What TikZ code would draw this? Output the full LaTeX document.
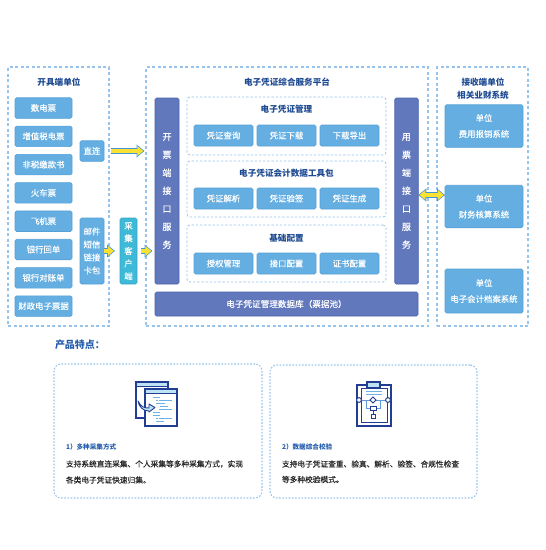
\documentclass[tikz,border=0pt]{standalone}
\usepackage{fontspec}
\setmainfont{Noto Sans CJK SC}
\newfontfamily\midfont[FakeBold=0.25]{Noto Sans CJK SC}
\usepackage{xcolor}
\usetikzlibrary{arrows.meta, positioning, calc}
\definecolor{mybox}{RGB}{100,174,226}
\definecolor{myboxline}{RGB}{84,160,216}
\definecolor{mydeep}{RGB}{98,120,188}
\definecolor{mydeepline}{RGB}{74,98,170}
\definecolor{mycyan}{RGB}{62,186,216}
\definecolor{mydash}{RGB}{150,196,236}
\definecolor{mytitle}{RGB}{30,74,146}
\definecolor{myhead}{RGB}{36,92,172}
\definecolor{mynavy}{RGB}{34,62,146}
\definecolor{mypale}{RGB}{190,226,246}
\definecolor{mylines}{RGB}{110,176,232}
\definecolor{myarrow}{RGB}{250,226,50}
\definecolor{myarrowline}{RGB}{70,150,214}

\begin{document}
\begin{tikzpicture}[
      x=1pt, y=-1pt,
      every node/.style={inner sep=0pt, outer sep=0pt},
      box/.style={draw=myboxline, fill=mybox, rounded corners=1.5pt, line width=.6pt,
                  minimum width=#1, text=white, align=center, font=\midfont\fontsize{8.4}{13}\selectfont},
      box/.default=57pt,
      lowbox/.style={box=57pt, minimum height=20.5pt},
      midbox/.style={box=59pt, minimum height=21pt},
      sysbox/.style={box=78pt, minimum height=42.5pt, font=\midfont\fontsize{8.4}{16}\selectfont},
      deep/.style={draw=mydeepline, fill=mydeep, rounded corners=1.5pt, line width=.6pt,
                   text=white, align=center, font=\midfont\fontsize{9}{18}\selectfont},
      frame/.style={draw=mydash, dash pattern=on 3pt off 2.5pt, line width=1.1pt},
      group/.style={draw=mydash, dash pattern=on 2.4pt off 1.8pt, line width=.8pt, rounded corners=3pt},
      card/.style={draw=mydash, dash pattern=on 1.6pt off 1.6pt, line width=1.1pt, rounded corners=7pt},
      title/.style={text=mytitle, font=\fontsize{8.6}{13.5}\selectfont\bfseries, align=center},
      feature/.style={anchor=west, text=myhead, font=\fontsize{6.6}{8}\selectfont\bfseries},
      body/.style={anchor=west, text=black!85, font=\midfont\fontsize{7.7}{9}\selectfont},
      arr/.style={line width=4pt, draw=myarrow, shorten >=1.2pt,
                  -{Triangle[length=6pt, width=9.5pt, fill=myarrow]},
                  preaction={draw=myarrowline, line width=5.6pt, shorten >=0pt,
                  -{Triangle[length=8pt, width=12.5pt, fill=myarrowline]}}},
      darr/.style={line width=4pt, draw=myarrow, shorten >=1.2pt, shorten <=1.2pt,
                  {Triangle[length=6pt, width=9.5pt, fill=myarrow]}-{Triangle[length=6pt, width=9.5pt, fill=myarrow]},
                  preaction={draw=myarrowline, line width=5.6pt, shorten >=0pt, shorten <=0pt,
                  {Triangle[length=8pt, width=12.5pt, fill=myarrowline]}-{Triangle[length=8pt, width=12.5pt, fill=myarrowline]}}},
      icon/.style={draw=mynavy, line width=1.2pt},
      thinline/.style={draw=mylines, line width=.9pt}
  ]
    \useasboundingbox (0,0) rectangle (546,550);

    % issuing side
    \node[frame, minimum width=101pt, minimum height=259pt] (issuer) at (58.5,196.5) {};
    \node[title] (issuertitle) at (59,82) {开具端单位};
    \node[lowbox] (b1) at (43.5,108) {数电票};
    \node[lowbox, below=7.8pt of b1] (b2) {增值税电票};
    \node[lowbox, below=7.8pt of b2] (b3) {非税缴款书};
    \node[lowbox, below=7.8pt of b3] (b4) {火车票};
    \node[lowbox, below=7.8pt of b4] (b5) {飞机票};
    \node[lowbox, below=7.8pt of b5] (b6) {银行回单};
    \node[lowbox, below=7.8pt of b6] (b7) {银行对账单};
    \node[lowbox, below=7.8pt of b7] (b8) {财政电子票据};

    \node[box=24pt, minimum height=20.5pt] (direct) at (92,151) {直连};
    \node[box=24pt, minimum height=66pt] (mail) at (92,251) {邮件\\短信\\链接\\卡包};
    \node[box=17pt, minimum height=66pt, draw=mycyan!90!black, fill=mycyan,
          font=\midfont\fontsize{8.4}{12.6}\selectfont] (client) at (128.5,251) {采\\集\\客\\户\\端};

    % platform
    \node[frame, minimum width=282pt, minimum height=259pt] (platform) at (287,196.5) {};
    \node[title] (platformtitle) at (287,82) {电子凭证综合服务平台};
    \node[deep, minimum width=24pt, minimum height=186pt] (issueapi) at (167,191) {开\\票\\端\\接\\口\\服\\务};
    \node[deep, minimum width=23.5pt, minimum height=186pt] (receiveapi) at (406.5,191) {用\\票\\端\\接\\口\\服\\务};
    \node[deep, minimum width=263pt, minimum height=24pt, font=\midfont\fontsize{8.6}{11}\selectfont] (pool) at (286.5,304)
      {电子凭证管理数据库（票据池）};

    \node[group, minimum width=199pt, minimum height=58pt] (mgmt) at (286.5,126) {};
    \node[title] (mgmttitle) at (286.5,109) {电子凭证管理};
    \node[midbox] (m1) at (223.5,135.5) {凭证查询};
    \node[midbox, right=4pt of m1] (m2) {凭证下载};
    \node[midbox, right=4pt of m2] (m3) {下载导出};

    \node[group, minimum width=199pt, minimum height=56pt] (tools) at (286.5,189) {};
    \node[title] (toolstitle) at (286.5,173) {电子凭证会计数据工具包};
    \node[midbox] (t1) at (223.5,198.5) {凭证解析};
    \node[midbox, right=4pt of t1] (t2) {凭证验签};
    \node[midbox, right=4pt of t2] (t3) {凭证生成};

    \node[group, minimum width=199pt, minimum height=57pt] (config) at (286.5,253.5) {};
    \node[title] (configtitle) at (286.5,238) {基础配置};
    \node[midbox] (c1) at (223.5,263.5) {授权管理};
    \node[midbox, right=4pt of c1] (c2) {接口配置};
    \node[midbox, right=4pt of c2] (c3) {证书配置};

    % receiving side
    \node[frame, minimum width=91pt, minimum height=259pt] (receiver) at (482.5,196.5) {};
    \node[title] (receivertitle) at (483,88.5) {接收端单位\\相关业财系统};
    \node[sysbox] (s1) at (484,126) {单位\\费用报销系统};
    \node[sysbox] (s2) at (484,206.5) {单位\\财务核算系统};
    \node[sysbox, minimum height=44pt] (s3) at (484,291) {单位\\电子会计档案系统};

    \coordinate (doublelevel) at (432,195);
    \draw[arr, shorten <=7pt] (direct.east) -- ($(direct.east -| platform.west)+(-1.5,0)$);
    \draw[arr] (mail.east) -- ($(mail.east)+(11,0)$);
    \draw[arr, shorten <=4pt] (client.east) -- ($(issueapi.west)+(-2.5,60)$);
    \draw[darr] (receiveapi.east |- doublelevel) -- (s2.west |- doublelevel);

    % features
    \node[anchor=west, text=myhead, font=\fontsize{10}{12}\selectfont\bfseries] (featuretitle) at (55,345) {产品特点：};
    \node[card, minimum width=208pt, minimum height=134pt] (card1) at (158,431) {};
    \node[card, minimum width=207pt, minimum height=133pt] (card2) at (373.5,431.5) {};

    \node[feature] (f1) at (66,447) {1）多种采集方式};
    \node[body] (f1a) at (66,464) {支持系统直连采集、个人采集等多种采集方式，实现};
    \node[body] (f1b) at (66,480) {各类电子凭证快速归集。};
    \node[feature] (f2) at (282,447) {2）数据综合校验};
    \node[body] (f2a) at (282,464) {支持电子凭证查重、验真、解析、验签、合规性检查};
    \node[body] (f2b) at (282,479.5) {等多种校验模式。};

    % window icon
    \fill[mypale] (136,382) rectangle (168,386);
    \draw[icon] (168,389) -- (168,382) -- (136,382) -- (136,418) -- (145,418);
    \draw[icon, line width=.7pt] (136,386) -- (168,386);
    \fill[white] (145,389) rectangle (177,426);
    \fill[mypale] (145,389) rectangle (177,393);
    \draw[icon] (145,389) rectangle (177,426);
    \draw[icon, line width=.7pt] (145,393) -- (177,393);
    \draw[thinline] (153,397) -- (160,397) (156,400) -- (158,400) (159,400) -- (172,400)
      (156,403) -- (165,403) (160,406) -- (168,406) (159,409) -- (172,409)
      (153,415) -- (160,415) (156,418) -- (158,418) (159,418) -- (172,418) (156,421) -- (164,421) (153,412) -- (160,412);
    \draw[mynavy, fill=mypale, line width=.9pt, line join=round] (138,401) .. controls (141,407) and (144,408) .. (149,408)
      -- (149,404) -- (155,407.5) -- (149,412) -- (149,411) .. controls (143,411) and (139,407) .. cycle;

    % clipboard icon
    \draw[icon] (367,385) -- (357,385) -- (357,426) -- (391,426) -- (391,385) -- (380,385);
    \draw[icon, line width=.9pt] (367,388) -- (361,388) -- (361,422) -- (387,422) -- (387,388) -- (380,388);
    \draw[icon, fill=mypale] (367,382) rectangle (380,388);
    \draw[thinline] (366,391) -- (382,391) (366,394) -- (382,394);
    \draw[thinline, draw=mylines!80!mynavy] (361,400) -- (386,400) (366,400) -- (366,408) -- (370,408) (380,400) -- (380,408) -- (376,408);
    \draw[mynavy, line width=1pt, fill=white] (359,400) circle (2.4);
    \draw[mynavy, line width=1pt, fill=white] (388,400) circle (2.4);
    \draw[mynavy, line width=1pt, fill=white] (373,397) -- (376,400) -- (373,403) -- (370,400) -- cycle;
    \draw[mynavy, line width=1pt, fill=white] (370,406) rectangle (376,410);
    \draw[thinline, draw=mynavy] (373,410) -- (373,414);
    \draw[mynavy, line width=1pt, fill=white] (371,414) rectangle (375,418);
\end{tikzpicture}
\end{document}
